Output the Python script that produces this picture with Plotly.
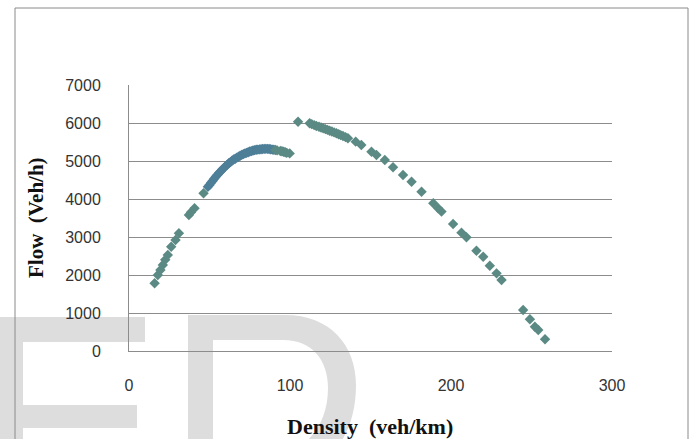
import plotly.graph_objects as go

# ---- data ----
density_free = [15.9, 17.9, 19.5, 21.0, 22.5, 24.1, 26.2, 28.9, 31.0, 37.2, 38.5, 40.7,
                46.3, 49.0, 50, 51, 52, 53, 54, 55, 56, 57, 58, 59, 60, 61, 62, 63, 64, 65,
                66, 67, 68, 69, 70, 71, 72, 73, 74, 75, 76, 77, 78, 79, 80, 81, 82, 83, 84,
                85, 86, 87, 88, 89, 90, 91, 92, 94, 95, 96, 97, 98, 99.8]
flow_free = [1782, 2000, 2130, 2263, 2400, 2526, 2745, 2921, 3097, 3579, 3650, 3755,
             4150, 4324, 4370, 4430, 4480, 4540, 4590, 4640, 4690, 4730, 4780, 4820, 4860,
             4900, 4940, 4970, 5010, 5040, 5060, 5090, 5110, 5140, 5160, 5180, 5200, 5215,
             5230, 5250, 5260, 5275, 5285, 5295, 5300, 5305, 5310, 5315, 5318, 5320, 5318,
             5315, 5310, 5300, 5295, 5290, 5280, 5265, 5255, 5245, 5230, 5215, 5200]

density_cong = [105.0, 112.2, 113.5, 115.0, 116.4, 118.0, 119.3, 120.6, 122.0, 123.3,
                124.6, 126.0, 127.4, 128.8, 130.2, 131.5, 132.9, 134.5, 136.0, 140.8,
                144.3, 150.6, 153.7, 158.9, 164.0, 170.2, 175.5, 181.7, 189.0, 192.0,
                194.1, 201.3, 206.5, 209.6, 215.8, 220.0, 224.1, 228.3, 231.4, 244.8,
                249.0, 252.1, 254.2, 258.4]
flow_cong = [6034, 5992, 5970, 5945, 5921, 5900, 5880, 5860, 5840, 5820, 5798, 5775,
             5752, 5729, 5705, 5682, 5658, 5628, 5597, 5509, 5421, 5245, 5158, 5026,
             4834, 4632, 4455, 4192, 3887, 3755, 3668, 3342, 3114, 2992, 2640, 2482,
             2245, 2044, 1868, 1079, 834, 640, 553, 308]

x_ticks = [0, 100, 200, 300]
y_ticks = [0, 1000, 2000, 3000, 4000, 5000, 6000, 7000]

W, H = 691, 439
L, R, T, B = 129, 612, 85, 351

def px(x):
    return (x - L) / (R - L)

def py(y):
    return (B - y) / (B - T)

def path(pts_list):
    s = ""
    for pts in pts_list:
        s += "M" + " L".join(f"{px(a):.5f},{py(b):.5f}" for a, b in pts) + " Z "
    return s

MARK = "#5b8a84"
MARK_DENSE = "#4e7f98"
free_colors = [MARK_DENSE if 48 <= d <= 90 else MARK for d in density_free]

fig = go.Figure()
fig.add_trace(go.Scatter(x=density_free, y=flow_free, mode="markers",
                         marker=dict(symbol="diamond", size=8, color=free_colors),
                         showlegend=False))
fig.add_trace(go.Scatter(x=density_cong, y=flow_cong, mode="markers",
                         marker=dict(symbol="diamond", size=8, color=MARK),
                         showlegend=False))

WM = "#dddddd"
E_pts = [(-10, 317), (145, 317), (145, 342), (23, 342), (23, 405), (137, 405),
         (137, 428), (23, 428), (23, 480), (-10, 480)]
shapes = [
    dict(type="path", xref="paper", yref="paper", layer="below",
         path=path([E_pts]), fillcolor=WM, line=dict(width=0)),
    dict(type="path", xref="paper", yref="paper", layer="below",
         path=(f"M{px(188):.5f},{py(315):.5f} L{px(285):.5f},{py(315):.5f} "
               f"C{px(330):.5f},{py(315):.5f} {px(356):.5f},{py(345):.5f} {px(356):.5f},{py(385):.5f} "
               f"C{px(356):.5f},{py(430):.5f} {px(335):.5f},{py(460):.5f} {px(300):.5f},{py(480):.5f} "
               f"L{px(188):.5f},{py(480):.5f} Z "
               f"M{px(213):.5f},{py(340):.5f} L{px(213):.5f},{py(455):.5f} L{px(283):.5f},{py(455):.5f} "
               f"C{px(312):.5f},{py(445):.5f} {px(328):.5f},{py(420):.5f} {px(328):.5f},{py(388):.5f} "
               f"C{px(328):.5f},{py(360):.5f} {px(312):.5f},{py(340):.5f} {px(283):.5f},{py(340):.5f} Z"),
         fillcolor=WM, line=dict(width=0)),
    dict(type="rect", xref="paper", yref="paper", layer="above",
         x0=px(15), x1=px(688), y0=py(8), y1=py(460),
         line=dict(color="#8a8a8a", width=1), fillcolor="rgba(0,0,0,0)"),
]

fig.update_layout(
    width=W, height=H,
    margin=dict(l=L, r=W - R, t=T, b=H - B),
    paper_bgcolor="white", plot_bgcolor="rgba(0,0,0,0)",
    shapes=shapes,
    xaxis=dict(range=[0, 300], tickvals=x_ticks, showgrid=False, zeroline=False,
               showline=True, linecolor="#8c8c8c", linewidth=1,
               ticks="outside", ticklen=20, tickcolor="rgba(0,0,0,0)",
               tickfont=dict(family="Liberation Sans, Arial", size=16, color="#333333")),
    yaxis=dict(range=[0, 7000], tickvals=y_ticks, showgrid=True, gridcolor="#8c8c8c",
               gridwidth=1, zeroline=False, showline=True, linecolor="#8c8c8c",
               ticks="outside", ticklen=24, tickcolor="rgba(0,0,0,0)",
               tickfont=dict(family="Liberation Sans, Arial", size=16, color="#333333")),
    annotations=[
        dict(text="<b>Flow  (Veh/h)</b>", xref="paper", yref="paper",
             x=px(36), y=py(218), textangle=-90, showarrow=False,
             xanchor="center", yanchor="middle",
             font=dict(family="Liberation Serif, Times New Roman", size=21, color="#111111")),
        dict(text="<b>Density  (veh/km)</b>", xref="paper", yref="paper",
             x=px(370), y=py(427), showarrow=False, xanchor="center", yanchor="middle",
             font=dict(family="Liberation Serif, Times New Roman", size=22, color="#111111")),
    ],
)

fig.write_html("out.html")
